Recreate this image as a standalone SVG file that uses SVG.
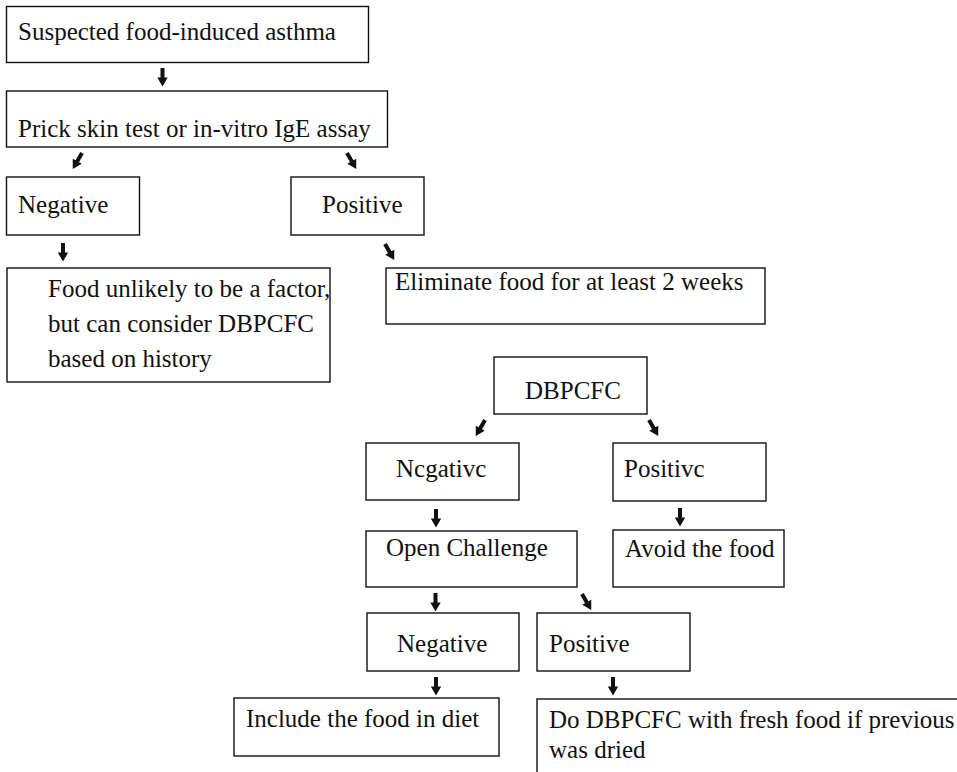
<svg xmlns="http://www.w3.org/2000/svg" xmlns:xlink="http://www.w3.org/1999/xlink" width="957" height="772" viewBox="0 0 957 772">
<style>
.box{fill:#fff;stroke:#111;stroke-width:1.4}
.t{font-family:"Liberation Serif","Times New Roman",serif;font-size:25px;fill:#111}
.arr{fill:#111}
</style>
<defs>
<path id="ar" d="M-2,0 H2 V9.5 H5.2 L0,18.5 L-5.2,9.5 H-2 Z"/>
</defs>
<rect width="957" height="772" fill="#fff"/>
<g id="connectors" class="arr">
<use xlink:href="#ar" transform="translate(162.5,68)"/>
<use xlink:href="#ar" transform="translate(82,153) rotate(30)"/>
<use xlink:href="#ar" transform="translate(347,153) rotate(-30)"/>
<use xlink:href="#ar" transform="translate(63,243)"/>
<use xlink:href="#ar" transform="translate(385,244) rotate(-30)"/>
<use xlink:href="#ar" transform="translate(485,420) rotate(30)"/>
<use xlink:href="#ar" transform="translate(649,420) rotate(-30)"/>
<use xlink:href="#ar" transform="translate(436,509)"/>
<use xlink:href="#ar" transform="translate(680,508)"/>
<use xlink:href="#ar" transform="translate(435.5,593)"/>
<use xlink:href="#ar" transform="translate(582,594) rotate(-30)"/>
<use xlink:href="#ar" transform="translate(436,677)"/>
<use xlink:href="#ar" transform="translate(613,677)"/>
</g>
<g id="n-suspected"><rect class="box" x="6.5" y="6.5" width="362" height="56"/><text class="t" x="18" y="40">Suspected food-induced asthma</text></g>
<g id="n-prick"><rect class="box" x="6.5" y="91" width="381" height="56"/><text class="t" x="18" y="137">Prick skin test or in-vitro IgE assay</text></g>
<g id="n-negative1"><rect class="box" x="6.5" y="177" width="133" height="58"/><text class="t" x="18" y="213">Negative</text></g>
<g id="n-positive1"><rect class="box" x="291" y="177" width="133" height="58"/><text class="t" x="322" y="213">Positive</text></g>
<g id="n-unlikely"><rect class="box" x="7" y="268" width="323" height="114"/><text class="t" x="48" y="297">Food unlikely to be a factor,</text><text class="t" x="48" y="332">but can consider DBPCFC</text><text class="t" x="48" y="367">based on history</text></g>
<g id="n-eliminate"><rect class="box" x="386" y="268" width="379" height="56"/><text class="t" x="395" y="290">Eliminate food for at least 2 weeks</text></g>
<g id="n-dbpcfc"><rect class="box" x="494" y="357" width="153" height="57"/><text class="t" x="525" y="399">DBPCFC</text></g>
<g id="n-negative2"><rect class="box" x="366" y="443" width="153" height="57"/><text class="t" x="396" y="477">Ncgativc</text></g>
<g id="n-positive2"><rect class="box" x="613" y="443" width="153" height="58"/><text class="t" x="624" y="477">Positivc</text></g>
<g id="n-open"><rect class="box" x="366" y="531" width="211" height="56"/><text class="t" x="386" y="556">Open Challenge</text></g>
<g id="n-avoid"><rect class="box" x="613" y="530" width="171" height="57"/><text class="t" x="625" y="557">Avoid the food</text></g>
<g id="n-negative3"><rect class="box" x="367" y="613" width="152" height="58"/><text class="t" x="397" y="652">Negative</text></g>
<g id="n-positive3"><rect class="box" x="537" y="613" width="153" height="58"/><text class="t" x="549" y="652">Positive</text></g>
<g id="n-include"><rect class="box" x="234" y="698" width="265" height="58"/><text class="t" x="246" y="727">Include the food in diet</text></g>
<g id="n-fresh"><rect class="box" x="537" y="699" width="500" height="200"/><text class="t" x="549" y="728">Do DBPCFC with fresh food if previous</text><text class="t" x="549" y="758">was dried</text></g>
</svg>
